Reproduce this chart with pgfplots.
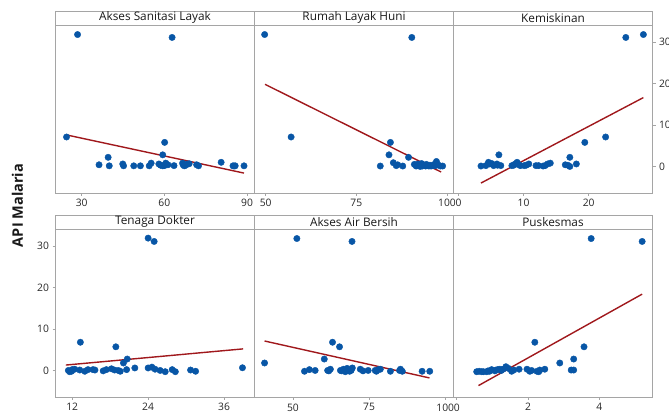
\documentclass[border=0pt]{standalone}
\usepackage{fontspec}
\setmainfont{Open Sans}
\usepackage{pgfplots}
\pgfplotsset{compat=1.18}
\definecolor{dotblue}{RGB}{8,86,166}
\definecolor{fitred}{RGB}{160,24,28}
\definecolor{frame}{RGB}{165,165,165}
\pgfplotsset{
 panel/.style={
  scale only axis, width=199pt, height=168pt, anchor=south west,
  axis line style={frame, line width=0.8pt},
  tick style={frame, line width=0.6pt},
  tick align=outside, major tick length=3pt,
  xtick pos=bottom, ytick=\empty,
  ymin=-6.4, ymax=34.1,
  ticklabel style={font=\fontsize{10.3}{12}\selectfont, text=black!85},
  /pgf/number format/assume math mode=true,
 },
 dots/.style={only marks, mark=*, mark size=3.2pt, color=dotblue, mark options={draw=dotblue, fill=dotblue}},
 fit/.style={fitred, line width=1.4pt, no marks},
}
\begin{document}
\begin{tikzpicture}[x=1pt,y=1pt]
% ---------- top row ----------
\begin{axis}[panel, at={(55.5pt,219pt)}, xmin=20.5, xmax=92.7, xtick={30,60,90}]
\addplot[dots] table {
28.5 31.8
62.8 31.1
24.5 7.1
60.1 5.8
59.4 2.8
39.6 2.2
36.3 0.4
40.0 0.15
44.9 0.6
45.2 0.15
48.9 0.15
51.3 0.15
54.5 0.15
55.2 0.8
58.0 0.6
59.4 0.15
60.5 0.8
61.3 0.4
63.5 0.2
66.6 0.8
67.2 0.15
68.2 0.6
69.0 0.65
71.7 0.4
72.4 0.15
80.6 1.0
84.9 0.15
85.7 0.15
88.9 0.15
58.6 0.3
67.8 0.3
66.8 0.4
85.3 0.1
60.0 0.2
};
\addplot[fit] coordinates {(24.5,7.6) (88.9,-1.6)};
\end{axis}
\begin{axis}[panel, at={(254.5pt,219pt)}, xmin=46.9, xmax=101.8, xtick={50,75,100}]
\addplot[dots] table {
49.7 31.8
90.3 31.1
57.0 7.1
84.4 5.8
84.0 2.8
89.4 2.2
81.6 0.1
85.2 0.9
86.4 0.4
87.8 0.1
91.0 0.5
91.5 0.1
92.0 0.6
92.3 0.2
92.8 0.5
93.2 0.1
93.7 0.3
94.1 0.1
94.6 0.2
95.0 0.1
95.6 0.1
96.1 0.2
96.5 0.5
97.1 1.2
97.5 0.4
98.2 0.1
98.8 0.1
86.0 0.2
93.0 0.7
95.3 0.3
91.8 0.3
94.3 0.5
96.8 0.2
92.6 0.0
};
\addplot[fit] coordinates {(49.8,19.8) (98.4,-1.35)};
\end{axis}
\begin{axis}[panel, at={(453.5pt,219pt)}, xmin=-0.77, xmax=29.8, xtick={0,10,20}, ytick={0,10,20,30}, ytick pos=right]
\addplot[dots] table {
25.7 31.1
28.4 31.8
22.6 7.1
19.4 5.8
17.1 2.2
6.2 2.8
3.45 0.1
4.6 1.0
4.8 0.6
5.4 0.2
5.9 0.6
6.5 0.2
8.2 0.2
8.7 0.6
9.0 1.0
9.5 0.2
10.1 0.2
10.8 0.6
11.9 0.2
12.3 0.2
13.3 0.2
13.7 0.6
14.1 0.8
16.4 0.4
17.1 0.0
18.1 0.6
4.2 0.2
6.0 0.3
8.5 0.3
13.0 0.1
9.3 0.4
5.1 0.7
16.8 0.3
10.4 0.3
};
\addplot[fit] coordinates {(3.45,-4.0) (28.4,16.6)};
\end{axis}
% ---------- bottom row ----------
\begin{axis}[panel, at={(55.5pt,15pt)}, xmin=9.37, xmax=40.8, xtick={12,24,36}, ytick={0,10,20,30}, ytick pos=left]
\addplot[dots] table {
24.0 31.9
24.95 31.1
13.3 6.8
18.9 5.7
20.7 2.75
20.1 1.8
38.9 0.65
11.4 0.0
11.9 -0.2
12.4 0.3
13.2 0.1
14.0 -0.2
14.5 0.2
15.3 0.2
15.6 0.1
16.9 -0.1
17.4 0.2
18.2 0.4
18.7 0.1
19.3 0.0
19.6 -0.2
20.6 0.2
21.9 0.6
24.0 0.6
24.6 0.8
25.1 0.3
25.9 0.0
26.7 -0.3
27.8 0.2
28.3 -0.3
30.7 0.1
31.5 -0.2
11.6 -0.3
12.0 0.2
};
\addplot[fit] coordinates {(11,1.3) (39,5.2)};
\end{axis}
\begin{axis}[panel, at={(254.5pt,15pt)}, xmin=37.4, xmax=102.7, xtick={50,75,100}]
\addplot[dots] table {
51.3 31.8
69.4 31.1
63.0 6.8
65.3 5.7
60.3 2.75
40.7 1.8
53.8 -0.2
55.4 0.2
57.3 0.0
61.4 0.0
62.3 0.3
65.6 0.0
66.6 0.3
67.8 0.5
68.6 -0.2
69.1 0.0
72.1 0.3
73.0 -0.1
74.7 0.0
77.4 -0.2
78.7 0.3
82.0 -0.2
85.3 0.3
85.9 -0.2
92.4 -0.2
94.9 -0.2
67.2 -0.3
68.0 0.1
69.5 0.6
61.8 -0.1
77.0 0.0
66.0 -0.1
85.0 0.0
78.0 0.2
};
\addplot[fit] coordinates {(40.7,7.1) (94.8,-1.8)};
\end{axis}
\begin{axis}[panel, at={(453.5pt,15pt)}, xmin=-0.09, xmax=5.49, xtick={0,2,4}]
\addplot[dots] table {
3.77 31.8
5.2 31.1
2.19 6.8
3.57 5.7
3.28 2.75
2.89 1.8
3.21 0.1
3.28 0.1
0.56 -0.3
0.70 -0.3
0.84 -0.3
0.98 0.2
1.07 -0.1
1.21 0.3
1.30 0.3
1.38 0.9
1.54 -0.2
1.60 0.1
1.75 0.3
1.97 0.3
2.05 -0.2
2.25 -0.2
2.33 0.1
2.47 0.3
0.63 -0.2
0.75 -0.3
0.88 -0.1
1.10 0.1
1.15 0.2
1.25 0.0
1.45 0.5
2.30 -0.3
2.10 0.0
0.92 -0.2
};
\addplot[fit] coordinates {(0.61,-3.65) (5.2,18.4)};
\end{axis}
% strip frames and titles
\foreach \yb in {387,183}{
  \draw[frame, line width=0.8pt] (55.5,\yb) rectangle (652.5,\yb+14);
  \draw[frame, line width=0.8pt] (254.5,\yb) -- (254.5,\yb+14) (453.5,\yb) -- (453.5,\yb+14);
}
\begin{scope}[every node/.style={font=\fontsize{11.8}{13}\selectfont, text=black!90, inner sep=0pt}]
\node at (155,394.2) {Akses Sanitasi Layak};
\node at (354,394.2) {Rumah Layak Huni};
\node at (553,394.2) {Kemiskinan};
\node at (155,190.2) {Tenaga Dokter};
\node at (354,190.2) {Akses Air Bersih};
\node at (553,190.2) {Puskesmas};
\end{scope}
\node[rotate=90, font=\fontsize{14.5}{17}\selectfont\bfseries, text=black!90] at (17.5,206.5) {API Malaria};
\pgfresetboundingbox
\path (0,0) rectangle (669,412);
\end{tikzpicture}
\end{document}
